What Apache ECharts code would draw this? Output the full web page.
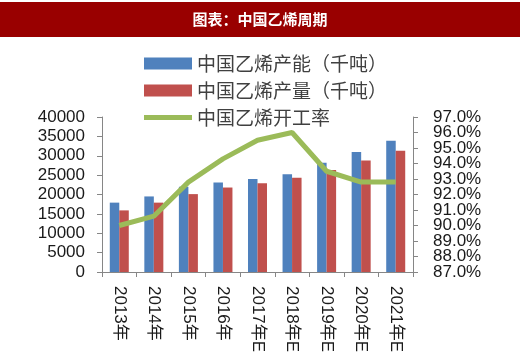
<!DOCTYPE html>
<html><head><meta charset="utf-8">
<script src="https://cdn.jsdelivr.net/npm/echarts@6/dist/echarts.min.js"></script>
<style>html,body{margin:0;padding:0;background:#fff}#c{width:520px;height:356px}</style>
</head><body><div id="c"></div>
<script>
const categories = ['2013年','2014年','2015年','2016年','2017年E','2018年E','2019年E','2020年E','2021年E'];
const capacity = [17900, 19500, 22000, 23100, 24000, 25200, 28200, 31000, 33900];
const output = [15900, 17900, 20100, 21800, 22900, 24300, 26300, 28800, 31300];
const utilRate = [90.0, 90.6, 92.8, 94.3, 95.5, 96.0, 93.5, 92.8, 92.8];
const seriesNames = ['中国乙烯产能（千吨）','中国乙烯产量（千吨）','中国乙烯开工率'];
const titleText = '图表：中国乙烯周期';

const FONT = '"Liberation Sans", Arial, "Noto Sans CJK SC", sans-serif';
const pct = v => v.toFixed(1) + '%';
const rightLabel = {fontSize:17, color:'#1a1a1a', margin:20, hideOverlap:false};
const chart = echarts.init(document.getElementById('c'), null, {renderer:'canvas'});
chart.setOption({
  animation:false,
  textStyle:{fontFamily:FONT},
  graphic:[
    {type:'rect', left:0, top:2, shape:{width:520, height:35}, style:{fill:'#990000'}, z:0},
    {type:'text', left:'center', top:12, style:{text:titleText, fill:'#fff', font:'bold 15px "Noto Sans CJK SC", sans-serif'}, z:1}
  ],
  legend:{
    orient:'vertical', left:139, top:49, itemWidth:48, itemHeight:12, itemGap:8,
    textStyle:{fontSize:19, color:'#404040', fontFamily:'"Noto Sans CJK SC", sans-serif'},
    data:[
      {name:seriesNames[0], icon:'rect'},
      {name:seriesNames[1], icon:'rect'},
      {name:seriesNames[2], icon:'path://M0,0 H48 V5 H0 Z'}
    ]
  },
  grid:{left:102, right:107, top:117, bottom:84},
  xAxis:{
    type:'category', data:categories,
    axisLine:{lineStyle:{color:'#868686', width:1}},
    axisTick:{show:true, length:5, lineStyle:{color:'#868686'}},
    axisLabel:{rotate:-90, margin:14, fontSize:17, color:'#1a1a1a', fontFamily:'"Liberation Sans", "Noto Sans CJK SC", sans-serif', interval:0}
  },
  yAxis:[
    {type:'value', min:0, max:40000, interval:5000,
     axisLine:{show:true, lineStyle:{color:'#868686'}},
     axisTick:{show:true, length:5, lineStyle:{color:'#868686'}},
     splitLine:{show:false},
     axisLabel:{fontSize:17, color:'#1a1a1a', margin:17, formatter:v=>String(v), showMinLabel:true, showMaxLabel:true, hideOverlap:false}},
    {type:'value', min:87, max:97, interval:1, position:'right', offset:0,
     axisLine:{show:true, lineStyle:{color:'#868686'}},
     axisTick:{show:true, length:5, lineStyle:{color:'#868686'}},
     splitLine:{show:false},
     axisLabel:Object.assign({}, rightLabel, {showMinLabel:true, showMaxLabel:true, formatter:v=>(Math.round(v)%2===1 ? pct(v) : '')})},
    {type:'value', min:87, max:97, interval:1, position:'right', offset:0,
     axisLine:{show:false}, axisTick:{show:false}, splitLine:{show:false},
     axisLabel:Object.assign({}, rightLabel, {showMinLabel:false, showMaxLabel:false, formatter:v=>(Math.round(v)%2===0 ? pct(v) : '')})}
  ],
  series:[
    {name:seriesNames[0], type:'bar', data:capacity, barGap:'0%', barCategoryGap:'45%', itemStyle:{color:'#4F81BD'}},
    {name:seriesNames[1], type:'bar', data:output, itemStyle:{color:'#C0504D'}},
    {name:seriesNames[2], type:'line', yAxisIndex:1, data:utilRate, symbol:'none', lineStyle:{color:'#9BBB59', width:5}, itemStyle:{color:'#9BBB59'}, z:5}
  ]
});
</script></body></html>
